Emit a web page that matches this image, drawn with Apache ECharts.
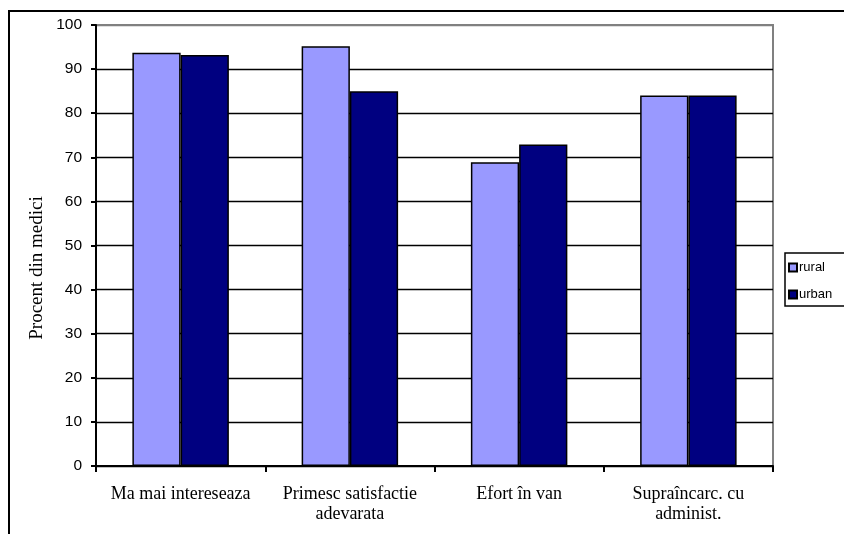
<!DOCTYPE html>
<html>
<head>
<meta charset="utf-8">
<script src="https://cdn.jsdelivr.net/npm/echarts@6/dist/echarts.min.js"></script>
<style>
  html, body { margin: 0; padding: 0; background: #fff; }
  #chart { width: 844px; height: 534px; }
</style>
</head>
<body>
<div id="chart"></div>
<script>
// Categories and percentages of doctors per answer
const categories = ['Ma mai intereseaza', 'Primesc satisfactie\nadevarata', 'Efort în van', 'Supraîncarc. cu\nadminist.'];
const ruralValues = [93.7, 95.2, 68.9, 84];
const urbanValues = [93.2, 85, 72.9, 84];
const seriesNames = ['rural', 'urban'];
const yTicks = { min: 0, max: 100, step: 10 };
const yTitle = 'Procent din medici';

const chart = echarts.init(document.getElementById('chart'), null, { renderer: 'canvas' });

// grid lines: black inside, grey on the top edge (100)
const splitColors = [];
for (let v = yTicks.min; v <= yTicks.max; v += yTicks.step) {
  splitColors.push(v === yTicks.max ? '#808080' : '#000000');
}

chart.setOption({
  animation: false,
  backgroundColor: '#ffffff',
  grid: {
    left: 96, right: 71, top: 25, bottom: 68,
    show: true, borderColor: '#808080', borderWidth: 2, backgroundColor: 'transparent'
  },
  graphic: [
    {
      type: 'rect',
      shape: { x: 9, y: 11, width: 900, height: 600 },
      style: { fill: 'none', stroke: '#000', lineWidth: 2 },
      silent: true, z: -1
    },
    {
      type: 'text',
      x: 37, y: 268,
      rotation: Math.PI / 2,
      style: {
        text: yTitle,
        font: '19px "Liberation Serif"',
        fill: '#000',
        align: 'center',
        verticalAlign: 'middle'
      },
      silent: true
    }
  ],
  legend: {
    orient: 'vertical',
    left: 785, top: 253,
    padding: [8, 30, 5, 3],
    backgroundColor: '#fff',
    borderColor: '#000',
    borderWidth: 1.5,
    borderRadius: 0,
    itemWidth: 8, itemHeight: 8,
    itemGap: 14,
    icon: 'rect',
    textStyle: { fontFamily: 'Liberation Sans', fontSize: 13, color: '#000', padding: [0, 0, 0, -3] },
    data: seriesNames
  },
  xAxis: {
    type: 'category',
    data: categories,
    axisLine: { lineStyle: { color: '#000', width: 2 } },
    axisTick: { show: true, interval: 0, length: 6, lineStyle: { color: '#000', width: 2 } },
    axisLabel: {
      interval: 0, margin: 18,
      fontFamily: 'Liberation Serif', fontSize: 18, color: '#000', lineHeight: 20
    },
    splitLine: { show: false }
  },
  yAxis: {
    type: 'value',
    min: yTicks.min, max: yTicks.max, interval: yTicks.step,
    axisLine: { show: true, lineStyle: { color: '#000', width: 2 } },
    axisTick: { show: true, length: 5, lineStyle: { color: '#000', width: 2 } },
    axisLabel: { margin: 14, fontFamily: 'Liberation Sans', fontSize: 15.5, color: '#000' },
    splitLine: { show: true, lineStyle: { color: splitColors, width: 1.3 } }
  },
  series: [
    {
      name: seriesNames[0], type: 'bar', data: ruralValues,
      barGap: '0%', barCategoryGap: '43%',
      itemStyle: { color: '#9999FF', borderColor: '#000', borderWidth: 1.5 }
    },
    {
      name: seriesNames[1], type: 'bar', data: urbanValues,
      barGap: '0%', barCategoryGap: '43%',
      itemStyle: { color: '#000080', borderColor: '#000', borderWidth: 1.5 }
    }
  ]
});
</script>
</body>
</html>
